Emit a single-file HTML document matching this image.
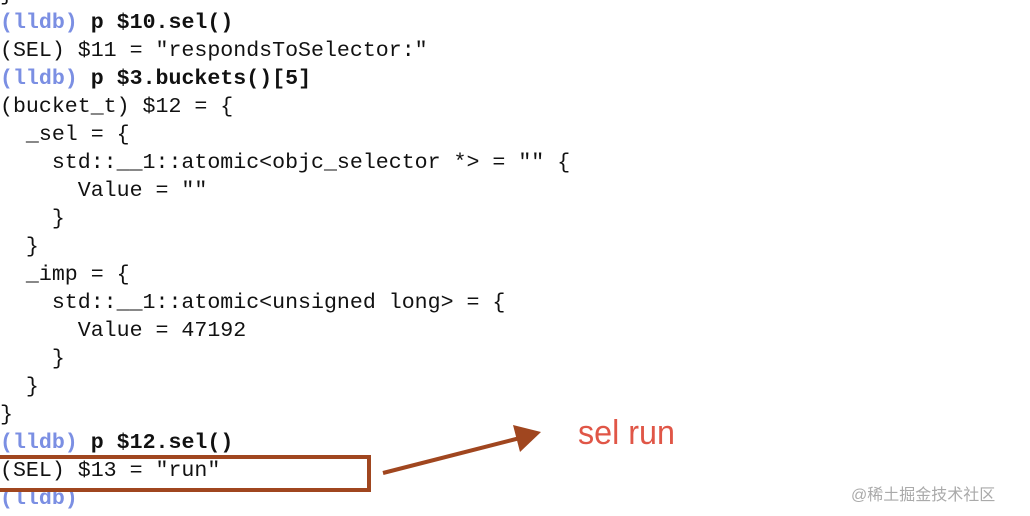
<!DOCTYPE html>
<html><head><meta charset="utf-8"><style>
html,body{margin:0;padding:0;background:#fff;}
body{width:1030px;height:516px;position:relative;overflow:hidden;}
pre{position:absolute;left:0;top:-19px;margin:0;font-family:"Liberation Mono",monospace;font-size:21.6px;line-height:28px;color:#111;}
.p{color:#7b8fe3;font-weight:bold;}
b{font-weight:bold;}
.t{position:absolute;left:578px;top:414px;font-family:"Liberation Sans",sans-serif;font-size:34px;color:#e05647;transform:scaleX(0.95);transform-origin:left;}
.w{position:absolute;left:851px;top:481px;font-family:"Liberation Sans","Noto Sans CJK SC",sans-serif;font-size:16px;color:#aaa;}
</style></head><body>
<pre>}
<span class="p">(lldb)</span> <b>p $10.sel()</b>
(SEL) $11 = "respondsToSelector:"
<span class="p">(lldb)</span> <b>p $3.buckets()[5]</b>
(bucket_t) $12 = {
  _sel = {
    std::__1::atomic&lt;objc_selector *&gt; = "" {
      Value = ""
    }
  }
  _imp = {
    std::__1::atomic&lt;unsigned long&gt; = {
      Value = 47192
    }
  }
}
<span class="p">(lldb)</span> <b>p $12.sel()</b>
(SEL) $13 = "run"
<span class="p">(lldb)</span></pre>
<svg width="1030" height="516" style="position:absolute;left:0;top:0">
<rect x="-4" y="457" width="373" height="33" fill="none" stroke="#a0461f" stroke-width="4"/>
<line x1="383" y1="473" x2="520" y2="438" stroke="#a0461f" stroke-width="4"/>
<polygon points="541,432 513,425 520,452" fill="#a0461f"/>
</svg>
<div class="t">sel run</div>
<div class="w">@稀土掘金技术社区</div>
</body></html>
